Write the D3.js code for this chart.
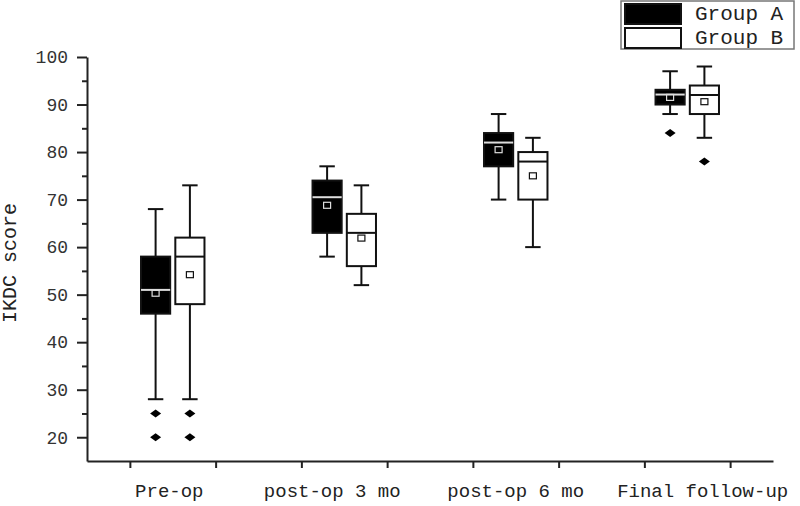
<!DOCTYPE html>
<html>
<head>
<meta charset="utf-8">
<title>IKDC score</title>
<script src="https://d3js.org/d3.v7.min.js"></script>
<style>
  body { margin: 0; background: #fff; }
  svg { display: block; }
  .axis path, .axis line { stroke: #222; stroke-width: 2; }
  .axis text { font-family: "Liberation Mono", monospace; font-size: 18px; fill: #333; }
  .cat { font-family: "Liberation Mono", monospace; font-size: 19px; fill: #222; }
  .legend text { font-family: "Liberation Mono", monospace; font-size: 21px; fill: #222; }
</style>
</head>
<body>
<script>
// categories and series (box stats)
var categories = ["Pre-op", "post-op 3 mo", "post-op 6 mo", "Final follow-up"];
var labelPos = [0.98, 1.93, 3.0, 4.09];
var groups = ["Group A", "Group B"];

var aWhiskLo = [28, 58, 70, 88];
var aQ1      = [46, 63, 77, 90];
var aMedian  = [51, 70.5, 82, 92.1];
var aQ3      = [58, 74, 84, 93.1];
var aWhiskHi = [68, 77, 88, 97];
var aMean    = [50.3, 68.8, 80.5, 91.5];
var aOutliers = [[25, 20], [], [], [84]];

var bWhiskLo = [28, 52, 60, 83];
var bQ1      = [48, 56, 70, 88];
var bMedian  = [58, 63, 78, 92];
var bQ3      = [62, 67, 80, 94];
var bWhiskHi = [73, 73, 83, 98];
var bMean    = [54.2, 61.9, 75, 90.6];
var bOutliers = [[25, 20], [], [], [78]];

var yTicks = [20, 30, 40, 50, 60, 70, 80, 90, 100];
var yMinor = [25, 35, 45, 55, 65, 75, 85, 95];
var xTicks = [0.75, 1.25, 1.75, 2.25, 2.75, 3.25, 3.75, 4.25];

var W = 800, H = 506;
var svg = d3.select("body").append("svg").attr("width", W).attr("height", H);

var x = d3.scaleLinear().domain([0.5, 4.5]).range([87, 773]);
var y = d3.scaleLinear().domain([15, 100]).range([461, 57]);

var boxW = 0.17, capW = 0.09, off = 0.1;

function build(lo, q1, med, q3, hi, mean, outl, shift, fill, inner) {
  return categories.map(function(c, i) {
    return {pos: i + 1 + shift, lo: lo[i], q1: q1[i], med: med[i], q3: q3[i], hi: hi[i],
            mean: mean[i], out: outl[i], fill: fill, inner: inner};
  });
}
var series = build(aWhiskLo, aQ1, aMedian, aQ3, aWhiskHi, aMean, aOutliers, -off, "#000", "#ddd")
  .concat(build(bWhiskLo, bQ1, bMedian, bQ3, bWhiskHi, bMean, bOutliers, off, "#fff", "#111"));

// axes
svg.append("g").attr("class", "axis")
  .attr("transform", "translate(" + x(0.5) + ",0)")
  .call(d3.axisLeft(y).tickValues(yTicks).tickSize(10).tickPadding(9).tickSizeOuter(0));
svg.append("g").attr("class", "axis")
  .attr("transform", "translate(" + x(0.5) + ",0)")
  .call(d3.axisLeft(y).tickValues(yMinor).tickSize(5).tickFormat("").tickSizeOuter(0))
  .select(".domain").remove();
svg.append("g").attr("class", "axis")
  .attr("transform", "translate(0," + y(15) + ")")
  .call(d3.axisBottom(x).tickValues(xTicks).tickSize(7).tickFormat("").tickSizeOuter(0));

svg.selectAll(".cat").data(categories).enter().append("text")
  .attr("class", "cat")
  .attr("x", function(d, i) { return x(labelPos[i]); })
  .attr("y", 497)
  .attr("text-anchor", "middle")
  .text(function(d) { return d; });

svg.append("text")
  .attr("class", "cat")
  .attr("transform", "translate(16," + 263 + ") rotate(-90)")
  .attr("text-anchor", "middle")
  .style("font-size", "20px")
  .text("IKDC score");

// boxes
var g = svg.selectAll(".box").data(series).enter().append("g").attr("class", "box");

g.append("line")
  .attr("x1", function(d) { return x(d.pos); }).attr("x2", function(d) { return x(d.pos); })
  .attr("y1", function(d) { return y(d.lo); }).attr("y2", function(d) { return y(d.hi); })
  .attr("stroke", "#111").attr("stroke-width", 2);
["lo", "hi"].forEach(function(k) {
  g.append("line")
    .attr("x1", function(d) { return x(d.pos - capW / 2); })
    .attr("x2", function(d) { return x(d.pos + capW / 2); })
    .attr("y1", function(d) { return y(d[k]); }).attr("y2", function(d) { return y(d[k]); })
    .attr("stroke", "#111").attr("stroke-width", 2);
});
g.append("rect")
  .attr("x", function(d) { return x(d.pos - boxW / 2); })
  .attr("width", function(d) { return x(d.pos + boxW / 2) - x(d.pos - boxW / 2); })
  .attr("y", function(d) { return y(d.q3); })
  .attr("height", function(d) { return y(d.q1) - y(d.q3); })
  .attr("fill", function(d) { return d.fill; })
  .attr("stroke", "#111").attr("stroke-width", 2);
g.append("line")
  .attr("x1", function(d) { return x(d.pos - boxW / 2); })
  .attr("x2", function(d) { return x(d.pos + boxW / 2); })
  .attr("y1", function(d) { return y(d.med); }).attr("y2", function(d) { return y(d.med); })
  .attr("stroke", function(d) { return d.inner; }).attr("stroke-width", 2);
g.append("rect")
  .attr("x", function(d) { return x(d.pos) - 3.5; })
  .attr("y", function(d) { return y(d.mean) - 3; })
  .attr("width", 7).attr("height", 6)
  .attr("fill", "none")
  .attr("stroke", function(d) { return d.inner; }).attr("stroke-width", 1.2);

// outliers
g.each(function(d) {
  d3.select(this).selectAll(".out").data(d.out).enter().append("path")
    .attr("class", "out")
    .attr("transform", function(v) { return "translate(" + x(d.pos) + "," + y(v) + ")"; })
    .attr("d", "M-5.5,0L0,-4L5.5,0L0,4Z")
    .attr("fill", "#000");
});

// legend
var lg = svg.append("g").attr("class", "legend");
lg.append("rect").attr("x", 621).attr("y", 1).attr("width", 173).attr("height", 48)
  .attr("fill", "#fff").attr("stroke", "#777").attr("stroke-width", 1.5);
lg.selectAll(".sw").data(groups).enter().append("rect")
  .attr("x", 625).attr("y", function(d, i) { return 4 + i * 24; })
  .attr("width", 56).attr("height", 20)
  .attr("fill", function(d, i) { return i ? "#fff" : "#000"; })
  .attr("stroke", "#111").attr("stroke-width", 2);
lg.selectAll(".lt").data(groups).enter().append("text")
  .attr("x", 695).attr("y", function(d, i) { return 20 + i * 24; })
  .text(function(d) { return d; });
</script>
</body>
</html>
